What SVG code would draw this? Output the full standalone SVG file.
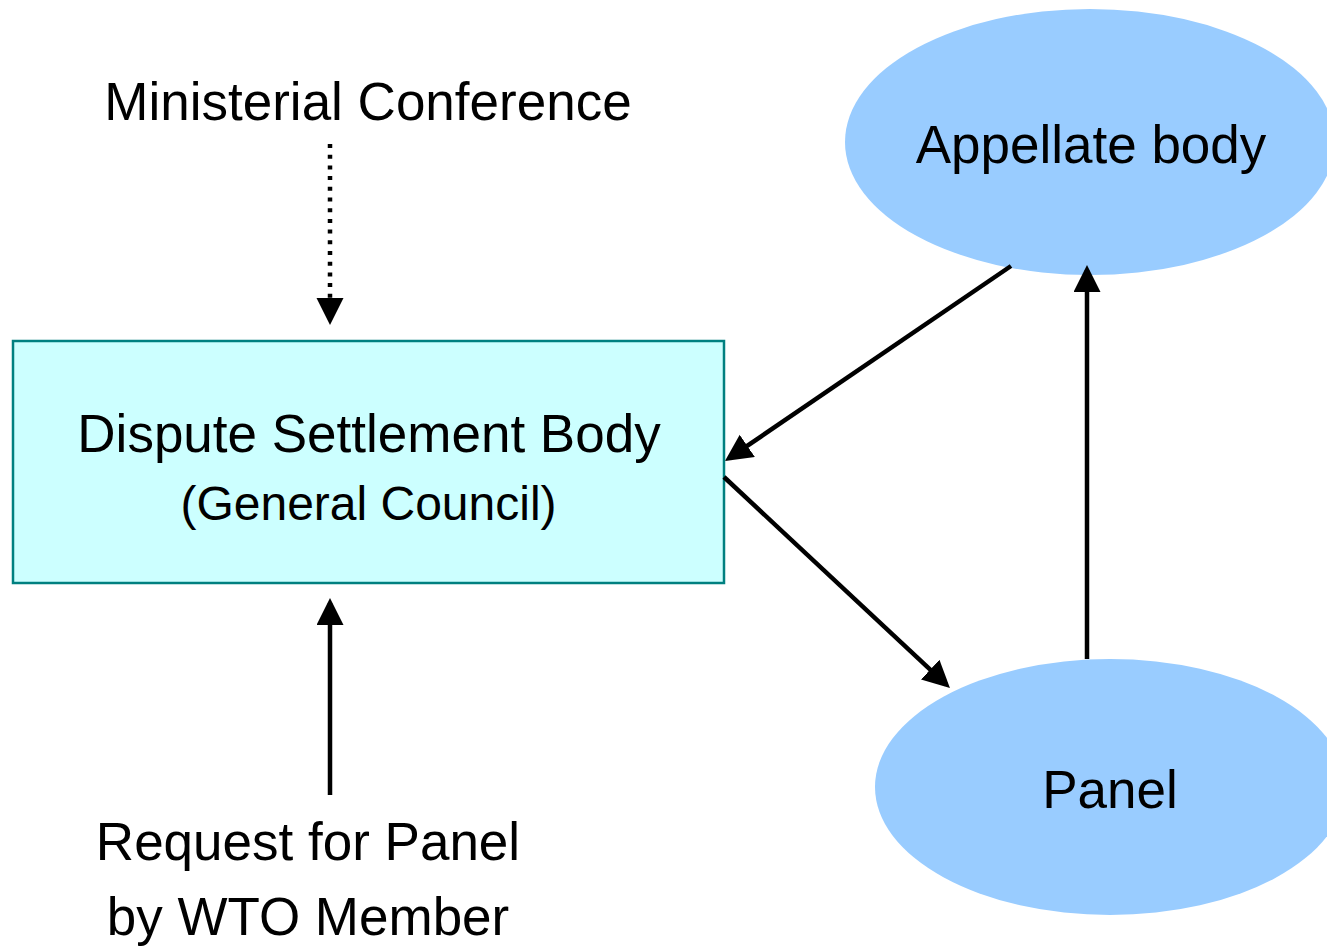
<svg xmlns="http://www.w3.org/2000/svg" width="1327" height="946" viewBox="0 0 1327 946">
  <style>
    .lbl { font-family: "Liberation Sans", Arial, sans-serif; font-size: 53px; fill: #000; text-anchor: middle; }
    .sub { font-size: 48px; }
    .conn { stroke: #000; stroke-width: 4.5; fill: none; marker-end: url(#head); }
    .dotted { stroke-dasharray: 4 6.7; }
    .oval { fill: #99CCFF; }
  </style>
  <defs>
    <marker id="head" markerUnits="userSpaceOnUse" markerWidth="28" markerHeight="28" refX="22" refY="13.5" orient="auto">
      <path d="M0,0 L27,13.5 L0,27 z" fill="#000"/>
    </marker>
  </defs>
  <rect width="1327" height="946" fill="#fff"/>

  <g id="appellate">
    <ellipse class="oval" cx="1090" cy="142" rx="245" ry="133"/>
    <text class="lbl" x="1091" y="163">Appellate body</text>
  </g>

  <g id="panel">
    <ellipse class="oval" cx="1110" cy="787" rx="235" ry="128"/>
    <text class="lbl" x="1110" y="808">Panel</text>
  </g>

  <g id="dsb">
    <rect x="13" y="341" width="711" height="242" fill="#CCFFFF" stroke="#008080" stroke-width="2.5"/>
    <text class="lbl" x="369" y="452">Dispute Settlement Body</text>
    <text class="lbl sub" x="368.5" y="520">(General Council)</text>
  </g>

  <g id="ministerial">
    <text class="lbl" x="368" y="120">Ministerial Conference</text>
  </g>

  <g id="request">
    <text class="lbl" x="308" y="860">Request for Panel</text>
    <text class="lbl" x="308" y="935">by WTO Member</text>
  </g>

  <g id="connectors">
    <line class="conn dotted" x1="330" y1="144" x2="330" y2="320"/>
    <line class="conn" x1="330" y1="795" x2="330" y2="603"/>
    <line class="conn" x1="1011" y1="266" x2="729.1" y2="458.2"/>
    <line class="conn" x1="724" y1="477" x2="946.3" y2="684.6"/>
    <line class="conn" x1="1087" y1="659" x2="1087" y2="270"/>
  </g>
</svg>
